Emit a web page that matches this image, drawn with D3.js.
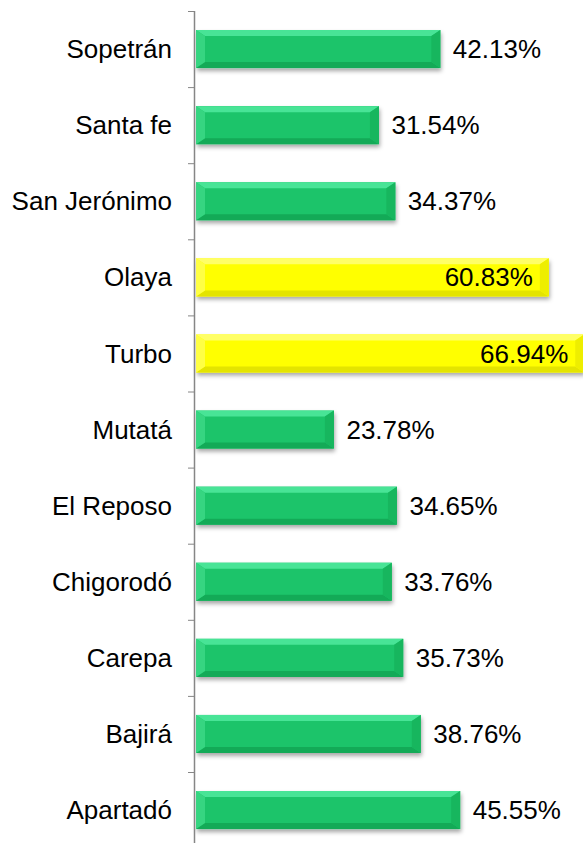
<!DOCTYPE html>
<html>
<head>
<meta charset="utf-8">
<script src="https://cdn.jsdelivr.net/npm/d3@7"></script>
<style>
  html, body { margin: 0; padding: 0; background: #fff; }
  svg { display: block; }
  text { font-family: "Liberation Sans", Arial, sans-serif; }
</style>
</head>
<body>
<svg id="chart" width="583" height="843"></svg>
<script>
const categories = ["Sopetrán", "Santa fe", "San Jerónimo", "Olaya", "Turbo", "Mutatá", "El Reposo", "Chigorodó", "Carepa", "Bajirá", "Apartadó"];
const values = [42.13, 31.54, 34.37, 60.83, 66.94, 23.78, 34.65, 33.76, 35.73, 38.76, 45.55];
const highlighted = ["Olaya", "Turbo"];

const W = 583, H = 843;
const svg = d3.select("#chart");

const x = d3.scaleLinear().domain([0, 70]).range([196, 196 + 70 * 5.8]);
const y = d3.scaleBand().domain(categories).range([11, 11 + 11 * 76.1]).paddingInner(0.5).paddingOuter(0.25);

const defs = svg.append("defs");
const f = defs.append("filter").attr("id", "shadow").attr("x", "-5%").attr("y", "-30%").attr("width", "110%").attr("height", "170%");
f.append("feDropShadow").attr("dx", 1).attr("dy", 3).attr("stdDeviation", 2).attr("flood-color", "#000").attr("flood-opacity", 0.35);

const palettes = {
  green: { main: "#1fc46a", top: "#48e496", left: "#36d581", bottom: "#13aa57", right: "#17b65e" },
  yellow: { main: "#ffff00", top: "#ffff66", left: "#ffff44", bottom: "#e4e400", right: "#eeee00" }
};

const data = categories.map((c, i) => ({ cat: c, val: values[i], hi: highlighted.includes(c) }));

const bars = svg.append("g").selectAll("g").data(data).join("g");

bars.each(function(d) {
  const g = d3.select(this);
  const p = d.hi ? palettes.yellow : palettes.green;
  const x0 = x(0), x1 = x(d.val), y0 = y(d.cat), y1 = y0 + y.bandwidth();
  const bw = 9, bh = 6;
  g.append("rect").attr("x", x0).attr("y", y0).attr("width", x1 - x0).attr("height", y1 - y0)
    .attr("fill", p.main).attr("filter", "url(#shadow)");
  const poly = (pts, fill) => g.append("polygon").attr("points", pts.map(q => q.join(",")).join(" ")).attr("fill", fill);
  poly([[x0, y0], [x1, y0], [x1 - bw, y0 + bh], [x0 + bw, y0 + bh]], p.top);
  poly([[x0, y1], [x1, y1], [x1 - bw, y1 - bh], [x0 + bw, y1 - bh]], p.bottom);
  poly([[x0, y0], [x0 + bw, y0 + bh], [x0 + bw, y1 - bh], [x0, y1]], p.left);
  poly([[x1, y0], [x1 - bw, y0 + bh], [x1 - bw, y1 - bh], [x1, y1]], p.right);
});

// value labels
svg.append("g").selectAll("text").data(data).join("text")
  .attr("x", d => d.hi ? Math.min(x(d.val) - 16, W - 10) : x(d.val) + 12.5)
  .attr("y", d => y(d.cat) + y.bandwidth() / 2)
  .attr("dy", "0.35em")
  .attr("text-anchor", d => d.hi ? "end" : "start")
  .attr("font-size", "26px")
  .attr("fill", "#000")
  .text(d => d.val.toFixed(2) + "%");

// category axis
const axisG = svg.append("g");
axisG.append("line").attr("x1", 194.5).attr("x2", 194.5).attr("y1", 11).attr("y2", H)
  .attr("stroke", "#868686").attr("stroke-width", 1.5);
const boundaries = d3.range(categories.length + 1).map(i => 11 + i * y.step());
axisG.selectAll("line.tick").data(boundaries).join("line").attr("class", "tick")
  .attr("x1", 188).attr("x2", 194.5).attr("y1", d => d + 0.5).attr("y2", d => d + 0.5)
  .attr("stroke", "#868686").attr("stroke-width", 1);
axisG.selectAll("text").data(categories).join("text")
  .attr("x", 172)
  .attr("y", d => y(d) + y.bandwidth() / 2)
  .attr("dy", "0.35em")
  .attr("text-anchor", "end")
  .attr("font-size", "26px")
  .attr("fill", "#000")
  .text(d => d);
</script>
</body>
</html>
